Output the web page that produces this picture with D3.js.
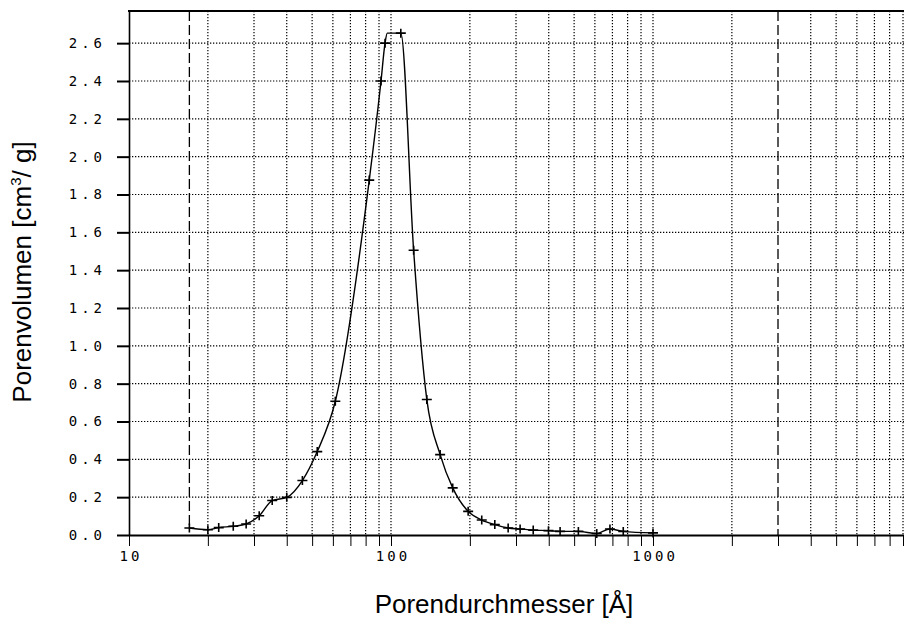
<!DOCTYPE html>
<html><head><meta charset="utf-8">
<script src="https://cdn.jsdelivr.net/npm/d3@7"></script>
<style>body{margin:0;background:#fff}svg{display:block}</style>
</head><body>
<svg id="c" width="904" height="621"></svg>
<script>
// Pore diameter [Å] of the measured points (markers)
const diameter = [17, 20, 22, 25, 28, 31.4, 35.2, 40, 45.9, 52.3, 61.3, 82.6, 91.6, 94.9, 109, 122, 137, 154, 172, 197, 222, 249, 280, 311, 349, 399, 442, 519, 610, 685, 770, 1000];
// Pore volume [cm³/g]
const volume = [0.037, 0.028, 0.039, 0.046, 0.058, 0.102, 0.182, 0.199, 0.288, 0.441, 0.707, 1.876, 2.40, 2.60, 2.653, 1.505, 0.716, 0.425, 0.249, 0.125, 0.079, 0.055, 0.037, 0.032, 0.026, 0.023, 0.019, 0.019, 0.008, 0.032, 0.019, 0.011];
// corner of the flat top of the curve (no marker)
const plateauDiameter = [96.8];
const plateauVolume = [2.653];
// axis ticks
const yTicks = [0, 0.2, 0.4, 0.6, 0.8, 1.0, 1.2, 1.4, 1.6, 1.8, 2.0, 2.2, 2.4, 2.6];
const xLabelTicks = [10, 100, 1000];
// evaluation range limits (dashed lines)
const rangeLimits = [17, 3000];

(function () {
const svg = d3.select('#c');
const mL = 129, mT = 11, mB = 535, mR = 915, W = 904;
const x = d3.scaleLog().domain([10, 10000]).range([mL, mR]);
const y = d3.scaleLinear().domain([0, 2.77]).range([mB, mT]);

const xAll = x.ticks();            // 10,20,...,90,100,...,10000
const gridG = svg.append('g');
gridG.selectAll('line.h').data(yTicks.filter(d => d > 0)).join('line')
  .attr('x1', mL).attr('x2', W).attr('y1', d => y(d)).attr('y2', d => y(d))
  .attr('stroke', '#000').attr('stroke-width', 1.2).attr('stroke-dasharray', '1.3,1.7');
gridG.selectAll('line.v').data(xAll.filter(d => d > 10 && !rangeLimits.includes(d))).join('line')
  .attr('x1', d => x(d)).attr('x2', d => x(d)).attr('y1', mT).attr('y2', mB)
  .attr('stroke', '#000').attr('stroke-width', 1.2).attr('stroke-dasharray', '1.3,1.7');

const pts = diameter.map((d, i) => ({d, v: volume[i]}));
svg.selectAll('line.lim').data(rangeLimits).join('line')
  .attr('x1', d => x(d)).attr('x2', d => x(d)).attr('y1', mT)
  .attr('y2', d => d === rangeLimits[0] ? y(volume[0]) : mB)
  .attr('stroke', '#000').attr('stroke-width', 1.3).attr('stroke-dasharray', '10,4');

const yAxis = d3.axisLeft(y).tickValues(yTicks).tickSize(12).tickSizeOuter(0).tickPadding(11)
  .tickFormat(d3.format('.1f'));
const gy = svg.append('g').attr('transform', `translate(${mL},0)`).call(yAxis);
gy.select('.domain').attr('stroke-width', 1.6);
gy.selectAll('.tick line').attr('stroke-width', 2);
gy.selectAll('.tick text').attr('font-family', 'DejaVu Sans Mono, monospace').attr('font-size', 14)
  .attr('letter-spacing', 4).attr('fill', '#000');

const xAxis = d3.axisBottom(x).tickValues(xAll).tickSize(11).tickSizeOuter(0).tickPadding(5)
  .tickFormat(d => xLabelTicks.includes(d) ? String(d) : '');
const gx = svg.append('g').attr('transform', `translate(0,${mB})`).call(xAxis);
gx.select('.domain').attr('stroke-width', 2);
gx.selectAll('.tick text').attr('font-family', 'DejaVu Sans Mono, monospace').attr('font-size', 14)
  .attr('letter-spacing', 3).attr('dx', 1.5).attr('fill', '#000');

svg.append('line').attr('x1', mL - 1).attr('x2', W).attr('y1', mT).attr('y2', mT)
  .attr('stroke', '#000').attr('stroke-width', 2.2);

const linePts = pts.concat(plateauDiameter.map((d, i) => ({d, v: plateauVolume[i]})))
  .sort((a, b) => a.d - b.d);
const line = d3.line().x(p => x(p.d)).y(p => y(p.v)).curve(d3.curveMonotoneX);
svg.append('path').attr('d', line(linePts)).attr('fill', 'none')
  .attr('stroke', '#000').attr('stroke-width', 1.4);

svg.selectAll('path.m').data(pts).join('path')
  .attr('transform', p => `translate(${x(p.d)},${y(p.v)})`)
  .attr('d', 'M-5,0H5M0,-4.5V4.5').attr('stroke', '#000').attr('stroke-width', 1.6);

svg.append('text').attr('x', 504).attr('y', 613).attr('text-anchor', 'middle')
  .attr('font-family', 'Liberation Sans, Arial, sans-serif').attr('font-size', 26)
  .text('Porendurchmesser [Å]');
const yt = svg.append('text').attr('transform', 'translate(31,272) rotate(-90)').attr('text-anchor', 'middle')
  .attr('font-family', 'Liberation Sans, Arial, sans-serif').attr('font-size', 26);
yt.append('tspan').text('Porenvolumen [cm');
yt.append('tspan').attr('font-size', 15).attr('dy', -10).text('3');
yt.append('tspan').attr('dy', 10).text('/ g]');
})();
</script>
</body></html>
